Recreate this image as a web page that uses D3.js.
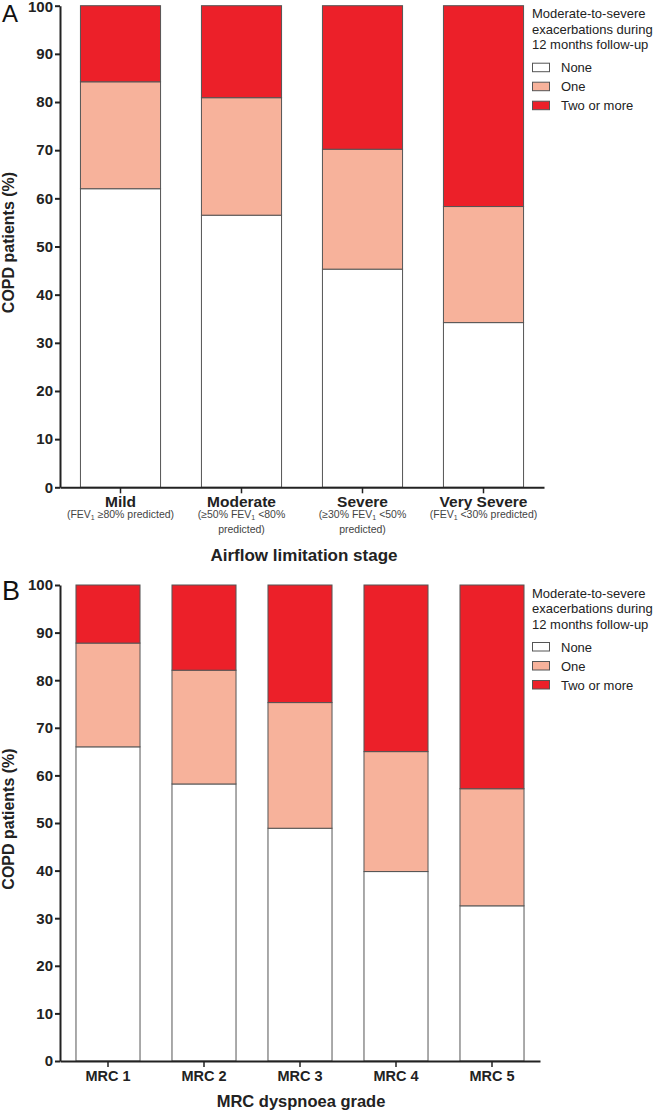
<!DOCTYPE html>
<html><head><meta charset="utf-8">
<script src="https://cdn.jsdelivr.net/npm/d3@7"></script>
<style>
html,body{margin:0;padding:0;background:#fff;}
svg{display:block;font-family:"Liberation Sans",Arial,Helvetica,sans-serif;}
</style></head>
<body><svg id="c" width="656" height="1112"></svg>
<script>
// ---- data ----
const seriesKeys = ["none", "one", "two"];
const seriesLabels = ["None", "One", "Two or more"];
const seriesColors = ["#ffffff", "#f7b29b", "#ec2029"];
const legendTitle = ["Moderate-to-severe", "exacerbations during", "12 months follow-up"];

const categoriesA = ["Mild", "Moderate", "Severe", "Very Severe"];
const subLabelsA = [
  [["(FEV", "1", " \u226580% predicted)"]],
  [["(\u226550% FEV", "1", " <80%"], ["predicted)"]],
  [["(\u226530% FEV", "1", " <50%"], ["predicted)"]],
  [["(FEV", "1", " <30% predicted)"]]
];
const noneA = [62.0, 56.5, 45.3, 34.2];
const oneA  = [22.2, 24.4, 24.9, 24.1];
const twoA  = [15.8, 19.1, 29.8, 41.7];

const categoriesB = ["MRC 1", "MRC 2", "MRC 3", "MRC 4", "MRC 5"];
const noneB = [66.0, 58.2, 48.9, 39.8, 32.6];
const oneB  = [21.8, 23.9, 26.4, 25.2, 24.6];
const twoB  = [12.2, 17.9, 24.7, 35.0, 42.8];

const yTicks = [0, 10, 20, 30, 40, 50, 60, 70, 80, 90, 100];
const axisTitleA = "Airflow limitation stage";
const axisTitleB = "MRC dyspnoea grade";
const yTitle = "COPD patients (%)";

const svg = d3.select("#c");

function panel(cfg) {
  const g = svg.append("g");
  const y = d3.scaleLinear().domain([0, 100]).range([cfg.y0, cfg.y100]);
  const x = d3.scaleBand().domain(cfg.cats).range([60, cfg.xEnd])
    .paddingInner(cfg.pi).paddingOuter(cfg.pi / 2);

  const rows = cfg.cats.map((c, i) => ({cat: c, none: cfg.none[i], one: cfg.one[i], two: cfg.two[i]}));
  const stacked = d3.stack().keys(seriesKeys)(rows);

  stacked.forEach((layer, li) => {
    g.selectAll(null).data(layer).join("rect")
      .attr("x", d => x(d.data.cat))
      .attr("width", x.bandwidth())
      .attr("y", d => y(d[1]))
      .attr("height", d => y(d[0]) - y(d[1]))
      .attr("fill", seriesColors[li])
      .attr("stroke", "#555")
      .attr("stroke-width", 1);
  });

  // y axis
  const ya = g.append("g").attr("transform", "translate(60,0)")
    .call(d3.axisLeft(y).tickValues(yTicks).tickSize(5).tickPadding(2).tickSizeOuter(0));
  ya.select(".domain").attr("stroke", "#222").attr("stroke-width", 2);
  ya.selectAll(".tick line").attr("stroke", "#222").attr("stroke-width", 2);
  ya.selectAll(".tick text").attr("font-size", 15).attr("font-weight", "bold").attr("fill", "#222")
    .attr("font-family", "Liberation Sans, Arial, sans-serif")
    .attr("dy", d => (d === 100 && cfg.y100 < 10) ? "0.4em" : "0.32em");

  // x axis
  const xa = g.append("g").attr("transform", `translate(0,${cfg.y0})`)
    .call(d3.axisBottom(x).tickSize(6).tickSizeOuter(0).tickFormat(""));
  xa.select(".domain").attr("stroke", "#222").attr("stroke-width", 2);
  xa.selectAll(".tick line").attr("stroke", "#222").attr("stroke-width", 1.5);

  // category labels
  cfg.cats.forEach((c, i) => {
    const cx = x(c) + x.bandwidth() / 2;
    g.append("text").attr("x", cx).attr("y", cfg.y0 + cfg.catDy)
      .attr("text-anchor", "middle").attr("font-size", cfg.catSize).attr("font-weight", "bold")
      .attr("fill", "#222").text(c);
    if (cfg.subs) {
      cfg.subs[i].forEach((line, li) => {
        const t = g.append("text").attr("x", cx).attr("y", cfg.y0 + 31 + li * 15)
          .attr("text-anchor", "middle").attr("font-size", 10.5).attr("fill", "#444");
        if (line.length === 3) {
          t.append("tspan").text(line[0]);
          t.append("tspan").attr("font-size", 7).attr("dy", 2).text(line[1]);
          t.append("tspan").attr("dy", -2).text(line[2]);
        } else {
          t.text(line[0]);
        }
      });
    }
  });

  // x axis title
  g.append("text").attr("x", cfg.titleX).attr("y", cfg.y0 + cfg.titleDy)
    .attr("text-anchor", "middle").attr("font-size", cfg.titleSize).attr("font-weight", "bold")
    .attr("fill", "#222").text(cfg.xTitle);

  // y axis title
  const yc = (cfg.y0 + cfg.y100) / 2 - 4;
  g.append("text").attr("transform", `translate(14,${yc}) rotate(-90)`)
    .attr("text-anchor", "middle").attr("font-size", 16).attr("font-weight", "bold")
    .attr("fill", "#222").text(yTitle);

  // panel letter
  g.append("text").attr("x", 2).attr("y", cfg.y100 + cfg.letterDy)
    .attr("font-size", cfg.letterSize).attr("fill", "#111").text(cfg.letter);

  // legend
  const lx = 532;
  legendTitle.forEach((s, i) => {
    g.append("text").attr("x", lx).attr("y", cfg.y100 + 12.6 + i * 15.5)
      .attr("font-size", 13).attr("fill", "#222").text(s);
  });
  seriesLabels.forEach((s, i) => {
    const by = cfg.y100 + 57.5 + i * 19;
    g.append("rect").attr("x", lx + 0.5).attr("y", by).attr("width", 17).attr("height", 8.5)
      .attr("fill", seriesColors[i]).attr("stroke", "#555").attr("stroke-width", 1);
    g.append("text").attr("x", lx + 29).attr("y", by + 9)
      .attr("font-size", 13).attr("fill", "#222").text(s);
  });
}

panel({cats: categoriesA, none: noneA, one: oneA, two: twoA, y0: 487.3, y100: 5.7,
  xEnd: 544, pi: 0.338, catDy: 19.4, catSize: 15.5, subs: subLabelsA, titleDy: 73.4,
  titleX: 304, titleSize: 17, xTitle: axisTitleA, letter: "A", letterDy: 16, letterSize: 24});
panel({cats: categoriesB, none: noneB, one: oneB, two: twoB, y0: 1061, y100: 585,
  xEnd: 540, pi: 0.333, catDy: 19.7, catSize: 14.5, subs: null, titleDy: 45.7,
  titleX: 301, titleSize: 16.5, xTitle: axisTitleB, letter: "B", letterDy: 14.5, letterSize: 27});
</script>
</body></html>
